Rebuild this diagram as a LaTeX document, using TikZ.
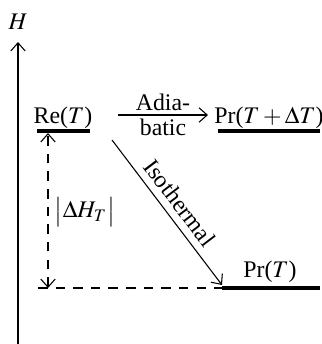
\documentclass[tikz,border=0pt]{standalone}
\usepackage{mathptmx}
\usepackage{fontspec}
\setmainfont{Liberation Serif}
\usetikzlibrary{arrows.meta}
\tikzset{
  LVL/.style={line width=1.3pt, line cap=butt},
  TXT/.style={font=\normalsize, inner sep=1pt},
  ARR/.style={-{Straight Barb[length=3.4pt,width=6pt]}, line width=0.45pt},
  DSH/.style={dash pattern=on 4pt off 3.4pt, line width=0.45pt},
}
\begin{document}
\begin{tikzpicture}[x=0.42pt, y=-0.42pt]
  \useasboundingbox (0,0) rectangle (322,344);
  % energy axis
  \coordinate (ax0) at (18,344);
  \coordinate (ax1) at (18,42);
  \draw[ARR] (ax0) -- (ax1);
  \node[TXT] (hlab) at (18,22) {$H$};
  % levels
  \coordinate (reL) at (37,131);   \coordinate (reR) at (90,131);
  \coordinate (pdL) at (218,131);  \coordinate (pdR) at (320,131);
  \coordinate (prL) at (222,288);  \coordinate (prR) at (320,288);
  \draw[LVL] (reL) -- (reR);
  \draw[LVL] (pdL) -- (pdR);
  \draw[LVL] (prL) -- (prR);
  \node[TXT] (re) at (63,118) {Re($T$)};
  \node[TXT] (pd) at (269,118) {Pr($T + \Delta T$)};
  \node[TXT] (pr) at (270,272) {Pr($T$)};
  % adiabatic path
  \coordinate (ad0) at (118,115);
  \coordinate (ad1) at (208,115);
  \draw[ARR] (ad0) -- node[TXT, above=0.5pt] (adia) {Adia-} node[TXT, below=0.5pt] (batic) {batic} (ad1);
  % isothermal path
  \coordinate (is0) at (112,140);
  \coordinate (is1) at (222,285);
  \draw[ARR] (is0) -- node[TXT, sloped, above=2pt] (iso) {Isothermal} (is1);
  % reaction enthalpy
  \coordinate (dhT) at (48,133);
  \coordinate (dhB) at (48,288);
  \coordinate (dsh0) at (38,288);
  \draw[DSH] (dsh0) -- (prL);
  \draw[DSH, {Straight Barb[length=3.4pt,width=6pt]}-{Straight Barb[length=3.4pt,width=6pt]}] (dhB) -- (dhT);
  \node[TXT] (dh) at (85,212) {$\bigl|\Delta H_T\bigr|$};
\end{tikzpicture}
\end{document}
